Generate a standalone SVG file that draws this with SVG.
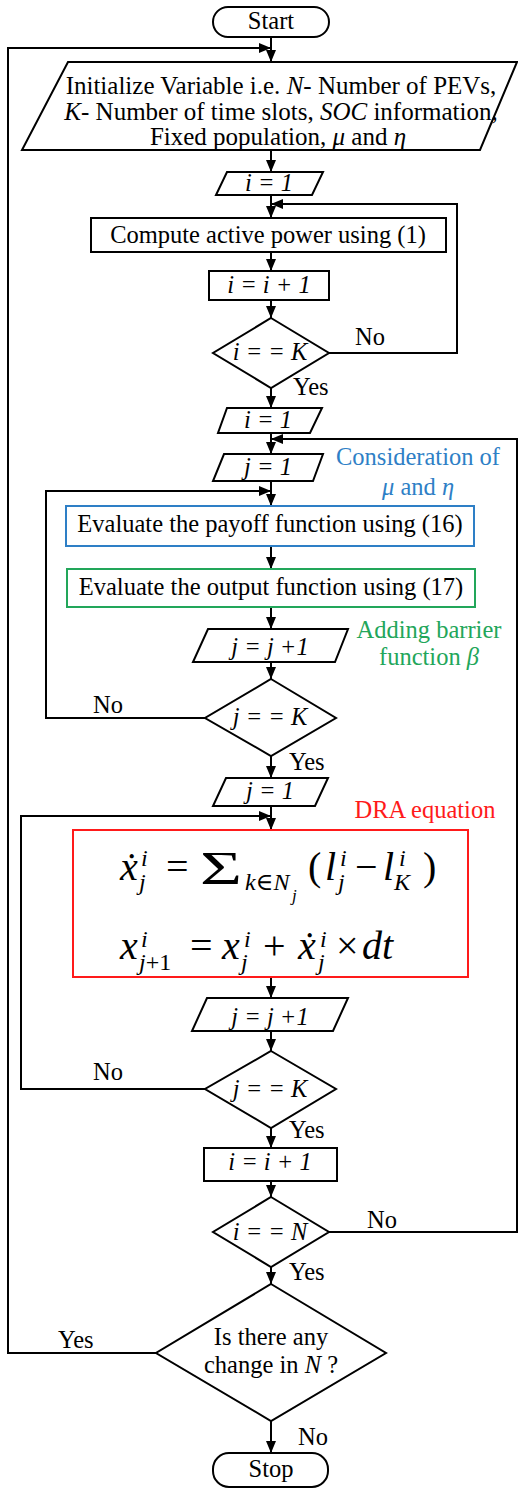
<svg xmlns="http://www.w3.org/2000/svg" width="518" height="1489" viewBox="0 0 518 1489">
<style>
.sh{fill:#fff;stroke:#000;stroke-width:2}
.ln{fill:none;stroke:#000;stroke-width:2}
.t{font-family:"Liberation Serif","Times New Roman",serif;font-size:24.5px;fill:#000}
.c{text-anchor:middle}
.it{font-style:italic}
.blue{fill:#2e7fc6}
.green{fill:#22a65a}
.red{fill:#ff1a1a}
.eq{font-family:"Liberation Serif","DejaVu Serif","Times New Roman",serif;font-size:40px;fill:#000}
.es{font-family:"Liberation Serif","DejaVu Serif","Times New Roman",serif;font-size:24px;fill:#000}
</style>
<defs>
<marker id="ah" markerUnits="userSpaceOnUse" markerWidth="12" markerHeight="10" refX="12" refY="5" orient="auto">
<path d="M0,0 L12,5 L0,10 z" fill="#000"/>
</marker>
</defs>
<rect width="518" height="1489" fill="#fff"/>
<g id="connectors" class="ln" marker-end="url(#ah)">
<path d="M271,37 V62"/>
<path d="M156,1353 H8 V48 H271"/>
<path d="M271,150 V172"/>
<path d="M271,195 V218"/>
<path d="M329,353 H457 V204 H271"/>
<path d="M271,252 V271"/>
<path d="M271,300 V318"/>
<path d="M271,388 V408"/>
<path d="M271,433 V454"/>
<path d="M329,1232 H517 V439 H271"/>
<path d="M271,481 V506"/>
<path d="M205,718 H46 V491 H271"/>
<path d="M271,546 V569"/>
<path d="M271,607 V629"/>
<path d="M271,662 V679"/>
<path d="M271,756 V778"/>
<path d="M271,806 V830"/>
<path d="M205,1089 H21 V816 H271"/>
<path d="M271,977 V998"/>
<path d="M271,1031 V1051"/>
<path d="M271,1128 V1148"/>
<path d="M271,1181 V1197"/>
<path d="M271,1267 V1284"/>
<path d="M271,1421 V1453"/>
</g>
<g id="start"><rect class="sh" x="213" y="7" width="116" height="30" rx="15"/><text class="t c" x="271" y="29">Start</text></g>
<g id="init"><polygon class="sh" points="68,62 517,62 480,150 22,150"/>
<text class="t c" x="281" y="94" style="font-size:25px">Initialize Variable i.e. <tspan class="it">N</tspan>- Number of PEVs,</text>
<text class="t c" x="281" y="120" style="font-size:25px"><tspan class="it">K</tspan>- Number of time slots, <tspan class="it">SOC</tspan> information,</text>
<text class="t c" x="278" y="145" style="font-size:25px">Fixed population, <tspan class="it">μ</tspan> and <tspan class="it">η</tspan></text></g>
<g id="i1a"><polygon class="sh" points="227,172 323,172 312,195 216,195"/><text class="t c it" x="269" y="191">i = 1</text></g>
<g id="compute"><rect class="sh" x="91" y="218" width="355" height="34"/><text class="t c" x="268" y="243">Compute active power using (1)</text></g>
<g id="inc_i_a"><rect class="sh" x="209" y="271" width="120" height="29"/><text class="t c it" x="269" y="293">i = i + 1</text></g>
<g id="dec_iK"><polygon class="sh" points="271,318 329,353 271,388 213,353"/><text class="t c it" x="270" y="360">i = = K</text>
<text class="t" x="355" y="345">No</text><text class="t" x="293" y="395">Yes</text></g>
<g id="i1b"><polygon class="sh" points="227,408 322,408 310,433 218,433"/><text class="t c it" x="268" y="428">i = 1</text></g>
<g id="j1a"><polygon class="sh" points="224,454 323,454 313,481 213,481"/><text class="t c it" x="268" y="475">j = 1</text></g>
<g id="note_mu"><text class="t c blue" x="418" y="465">Consideration of</text><text class="t c blue" x="418" y="495"><tspan class="it">μ</tspan> and <tspan class="it">η</tspan></text></g>
<g id="payoff"><rect x="66" y="506" width="408" height="40" fill="#fff" stroke="#2e7fc6" stroke-width="2"/><text class="t c" x="270" y="532">Evaluate the payoff function using (16)</text></g>
<g id="output"><rect x="67" y="569" width="408" height="38" fill="#fff" stroke="#22a65a" stroke-width="2"/><text class="t c" x="271" y="595">Evaluate the output function using (17)</text></g>
<g id="incj_a"><polygon class="sh" points="208,629 348,629 335,662 193,662"/><text class="t c it" x="270" y="655">j = j +1</text></g>
<g id="note_beta"><text class="t c green" x="429" y="638">Adding barrier</text><text class="t c green" x="429" y="665">function <tspan class="it">β</tspan></text></g>
<g id="dec_jK_a"><polygon class="sh" points="271,679 336,718 271,756 205,718"/><text class="t c it" x="270" y="725">j = = K</text>
<text class="t" x="93" y="713">No</text><text class="t" x="289" y="770">Yes</text></g>
<g id="j1b"><polygon class="sh" points="226,778 328,778 315,806 213,806"/><text class="t c it" x="270" y="799">j = 1</text></g>
<g id="note_dra"><text class="t c red" x="425" y="818">DRA equation</text></g>
<g id="dra"><rect x="73" y="830" width="395" height="147" fill="#fff" stroke="#ff1a1a" stroke-width="2"/>
<text class="eq it" x="120" y="880">ẋ</text>
<text class="es it" x="141" y="866">i</text>
<text class="es it" x="139" y="890">j</text>
<text class="eq" x="166" y="880">=</text>
<text class="eq" x="200" y="884" style="font-size:47px" textLength="42" lengthAdjust="spacingAndGlyphs">Σ</text>
<text class="es" x="245" y="890"><tspan class="it">k</tspan>∈<tspan class="it">N</tspan></text>
<text class="es it" x="292" y="901" style="font-size:17px">j</text>
<text class="eq" x="308" y="880">(</text>
<text class="eq it" x="325" y="880">l</text>
<text class="es it" x="340" y="866">i</text>
<text class="es it" x="338" y="890">j</text>
<text class="eq" x="355" y="880">−</text>
<text class="eq it" x="383" y="880">l</text>
<text class="es it" x="399" y="866">i</text>
<text class="es it" x="394" y="890">K</text>
<text class="eq" x="423" y="880">)</text>
<text class="eq it" x="120" y="959">x</text>
<text class="es it" x="141" y="947">i</text>
<text class="es" x="139" y="970"><tspan class="it">j</tspan>+1</text>
<text class="eq" x="190" y="959">=</text>
<text class="eq it" x="222" y="959">x</text>
<text class="es it" x="244" y="947">i</text>
<text class="es it" x="241" y="970">j</text>
<text class="eq" x="263" y="959">+</text>
<text class="eq it" x="298" y="959">ẋ</text>
<text class="es it" x="320" y="947">i</text>
<text class="es it" x="318" y="970">j</text>
<text class="eq" x="336" y="959">×</text>
<text class="eq it" x="362" y="959">dt</text>
</g>
<g id="incj_b"><polygon class="sh" points="207,998 348,998 333,1031 192,1031"/><text class="t c it" x="270" y="1025">j = j +1</text></g>
<g id="dec_jK_b"><polygon class="sh" points="271,1051 336,1089 271,1128 205,1089"/><text class="t c it" x="270" y="1097">j = = K</text>
<text class="t" x="93" y="1080">No</text><text class="t" x="289" y="1138">Yes</text></g>
<g id="inc_i_b"><rect class="sh" x="204" y="1148" width="133" height="33"/><text class="t c it" x="270" y="1170">i = i + 1</text></g>
<g id="dec_iN"><polygon class="sh" points="271,1197 329,1232 271,1267 213,1232"/><text class="t c it" x="270" y="1240">i = = N</text>
<text class="t" x="367" y="1228">No</text><text class="t" x="289" y="1280">Yes</text></g>
<g id="dec_change"><polygon class="sh" points="271,1284 386,1353 271,1421 156,1353"/>
<text class="t c" x="271" y="1345">Is there any</text>
<text class="t c" x="271" y="1373">change in <tspan class="it">N</tspan> ?</text>
<text class="t" x="58" y="1348">Yes</text><text class="t" x="298" y="1445">No</text></g>
<g id="stop"><rect class="sh" x="213" y="1453" width="115" height="34" rx="16"/><text class="t c" x="271" y="1477">Stop</text></g>
</svg>
